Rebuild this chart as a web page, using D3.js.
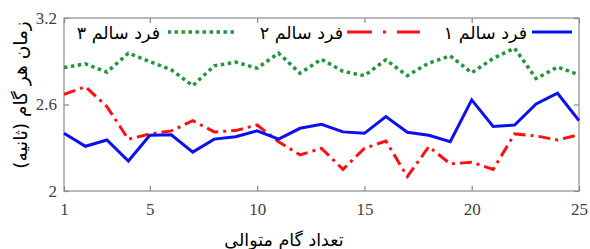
<!DOCTYPE html>
<html><head><meta charset="utf-8">
<script src="https://cdn.jsdelivr.net/npm/d3@7"></script>
<style>body{margin:0;background:#fff}</style>
</head><body>
<svg id="c" width="590" height="249"></svg>
<script>
const steps = d3.range(1, 26);
const healthy1 = [2.40,2.31,2.354,2.208,2.387,2.39,2.27,2.36,2.377,2.417,2.36,2.435,2.463,2.41,2.40,2.516,2.407,2.387,2.342,2.632,2.447,2.458,2.604,2.678,2.488];
const healthy2 = [2.67,2.724,2.585,2.359,2.396,2.417,2.488,2.41,2.419,2.458,2.342,2.25,2.296,2.15,2.296,2.347,2.10,2.308,2.188,2.20,2.15,2.396,2.382,2.354,2.39];
const healthy3 = [2.856,2.882,2.824,2.956,2.898,2.84,2.731,2.868,2.894,2.852,2.956,2.817,2.914,2.83,2.80,2.91,2.80,2.887,2.9375,2.82,2.92,2.99,2.78,2.86,2.806];
const seriesNames = ["فرد سالم ۱","فرد سالم ۲","فرد سالم ۳"];
const xTicks = [1,5,10,15,20,25];
const yTicks = [2,2.6,3.2];
const xLabel = "تعداد گام متوالی";
const yLabel = "زمان هر گام (ثانیه)";

const L=64,R=579,T=18,B=191;
const svg=d3.select("#c");
const x=d3.scaleLinear().domain([1,25]).range([L,R]);
const y=d3.scaleLinear().domain([2,3.2]).range([B,T]);
const axisCol="#8a8a8a", tickTxt="#404040";
const numFont="'Liberation Serif', serif";
const faFont="'DejaVu Sans', sans-serif";

// frame
svg.append("rect").attr("x",L).attr("y",T).attr("width",R-L).attr("height",B-T)
  .attr("fill","none").attr("stroke",axisCol).attr("stroke-width",1.2);

const gx=svg.append("g").attr("transform",`translate(0,${B})`)
  .call(d3.axisBottom(x).tickValues(xTicks).tickSize(-5).tickPadding(12).tickFormat(d3.format("d")));
const gxt=svg.append("g").attr("transform",`translate(0,${T})`)
  .call(d3.axisTop(x).tickValues(xTicks).tickSize(-5).tickFormat(""));
const gy=svg.append("g").attr("transform",`translate(${L},0)`)
  .call(d3.axisLeft(y).tickValues(yTicks).tickSize(-5).tickPadding(7).tickFormat(d=>d===2?"2":d3.format(".1f")(d)));
const gyr=svg.append("g").attr("transform",`translate(${R},0)`)
  .call(d3.axisRight(y).tickValues(yTicks).tickSize(-5).tickFormat(""));
[gx,gxt,gy,gyr].forEach(g=>{
  g.select(".domain").remove();
  g.selectAll(".tick line").attr("stroke",axisCol).attr("stroke-width",1.2);
  g.selectAll(".tick text").attr("fill",tickTxt).attr("font-family",numFont).attr("font-size",17);
});

const line=d3.line().x((d,i)=>x(steps[i])).y(d=>y(d));
const styles=[
  {data:healthy1,color:"#0a10f0",dash:null,w:3,legDash:null},
  {data:healthy2,color:"#ff1010",dash:"12 5 3 5",w:3,legDash:"23 11 3 11 26"},
  {data:healthy3,color:"#22963a",dash:"3.5 3.5",w:3.5,legDash:"3.5 3.5"}
];
const plot=svg.append("g");
styles.slice().reverse().forEach(s=>{
  plot.append("path").datum(s.data).attr("d",line).attr("fill","none")
    .attr("stroke",s.color).attr("stroke-width",s.w).attr("stroke-linejoin","miter")
    .attr("stroke-dasharray",s.dash);
});

// legend
const leg=[
  {x1:532,x2:572,tx:527},
  {x1:347,x2:420,tx:343},
  {x1:168,x2:234,tx:160}
];
leg.forEach((l,i)=>{
  const s=styles[i];
  svg.append("line").attr("x1",l.x2).attr("x2",l.x1).attr("y1",32).attr("y2",32)
    .attr("stroke",s.color).attr("stroke-width",s.w).attr("stroke-dasharray",s.legDash);
  svg.append("text").attr("x",l.tx).attr("y",39).attr("text-anchor","start")
    .attr("direction","rtl").attr("font-family",faFont).attr("font-size",17.5).attr("fill","#000")
    .text(seriesNames[i]);
});

svg.append("text").attr("x",284).attr("y",246).attr("text-anchor","middle").attr("direction","rtl")
  .attr("font-family",faFont).attr("font-size",17.5).attr("fill","#000").text(xLabel);
svg.append("text").attr("transform","translate(27,95) rotate(-90)").attr("text-anchor","middle").attr("direction","rtl")
  .attr("font-family",faFont).attr("font-size",18.5).attr("fill","#000").text(yLabel);
</script>
</body></html>
